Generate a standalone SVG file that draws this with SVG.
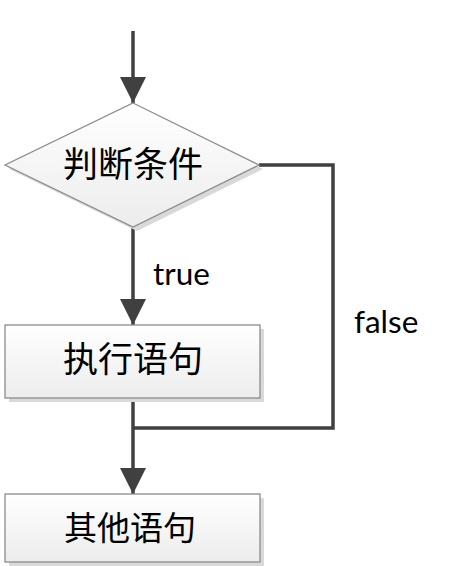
<svg xmlns="http://www.w3.org/2000/svg" width="451" height="566" viewBox="0 0 451 566">
<style>
.shape{fill:url(#g);stroke:#8c8c8c;stroke-width:1.3}
.shadow{fill:#d9d9d9}
.cn{font-family:"Noto Sans CJK SC",sans-serif;fill:#000;text-anchor:middle}
.lbl{font-family:Lato,"Liberation Sans",sans-serif;font-size:31.5px;fill:#000}
.conn{fill:none;stroke:#404040;stroke-width:3.5;stroke-linejoin:miter}
</style>
<defs>
<linearGradient id="g" x1="0" y1="0" x2="0" y2="1">
<stop offset="0" stop-color="#ffffff"/>
<stop offset="1" stop-color="#ececec"/>
</linearGradient>
<marker id="arr" markerUnits="userSpaceOnUse" markerWidth="28" markerHeight="26" refX="26" refY="13" orient="auto">
<path d="M0,0 L26,13 L0,26 Z" fill="#404040"/>
</marker>
</defs>
<g id="connectors">
<line class="conn" x1="133" y1="31" x2="133" y2="103" marker-end="url(#arr)"/>
<line class="conn" x1="133" y1="227" x2="133" y2="325" marker-end="url(#arr)"/>
<polyline class="conn" points="259,165 333,165 333,428 133,428"/>
<line class="conn" x1="133" y1="398" x2="133" y2="494" marker-end="url(#arr)"/>
<text class="lbl" x="153" y="285">true</text>
<text class="lbl" x="354" y="333">false</text>
</g>
<g id="decision">
<polygon class="shadow" points="137,107 263,169 137,231 9,169"/>
<polygon class="shape" points="133,103 259,165 133,227 5,165"/>
<text class="cn" x="133" y="177" font-size="35">判断条件</text>
</g>
<g id="execute">
<rect class="shadow" x="9" y="329" width="255" height="73"/>
<rect class="shape" x="5" y="325" width="255" height="73"/>
<text class="cn" x="133" y="372" font-size="35">执行语句</text>
</g>
<g id="other">
<rect class="shadow" x="9" y="498" width="255" height="68"/>
<rect class="shape" x="5" y="494" width="255" height="68"/>
<text class="cn" x="130" y="540" font-size="33">其他语句</text>
</g>
</svg>
